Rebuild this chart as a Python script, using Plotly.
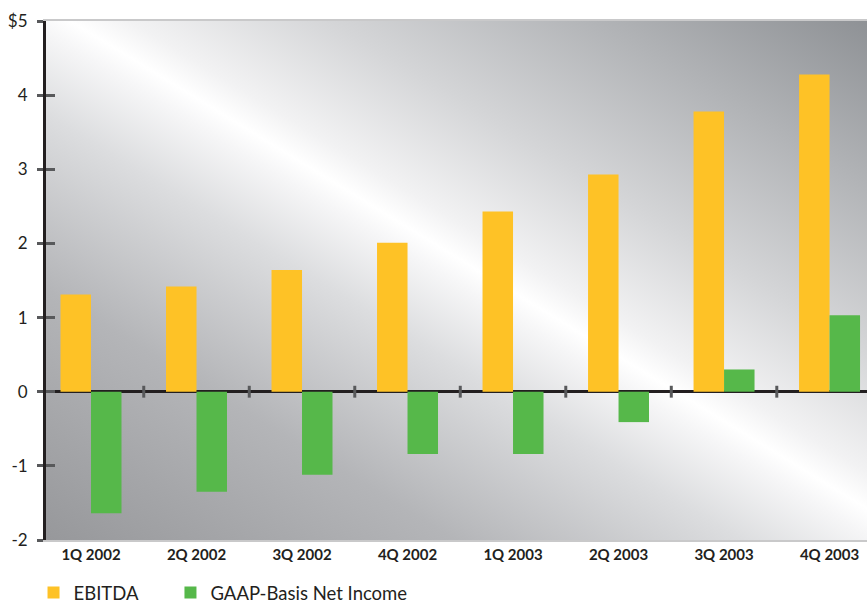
import base64
import plotly.graph_objects as go

# Quarterly results, $ millions
quarters = ["1Q 2002", "2Q 2002", "3Q 2002", "4Q 2002",
            "1Q 2003", "2Q 2003", "3Q 2003", "4Q 2003"]
ebitda = [1.31, 1.42, 1.64, 2.01, 2.43, 2.93, 3.78, 4.28]
net_income = [-1.64, -1.35, -1.12, -0.84, -0.84, -0.41, 0.30, 1.03]

y_ticks = [5, 4, 3, 2, 1, 0, -1, -2]
y_tick_text = ["$5", "4", "3", "2", "1", "0", "-1", "-2"]

x_pos = list(range(len(quarters)))
INK = "#231f20"
TICK = "#58595b"
FONT = "Lato, 'Open Sans', sans-serif"

# Diagonal steel-grey backdrop with a soft sheen across the plot area
W, H = 821, 519
svg = f"""<svg xmlns='http://www.w3.org/2000/svg' width='{W}' height='{H}' viewBox='0 0 {W} {H}' preserveAspectRatio='none'>
<defs><linearGradient id='g' gradientUnits='userSpaceOnUse' x1='24' y1='541' x2='483' y2='-209'>
<stop offset='0' stop-color='#96979a'/>
<stop offset='0.25' stop-color='#b4b5b8'/>
<stop offset='0.42' stop-color='#dcdddf'/>
<stop offset='0.50' stop-color='#f6f6f7'/>
<stop offset='0.525' stop-color='#ffffff'/>
<stop offset='0.56' stop-color='#f2f2f3'/>
<stop offset='0.68' stop-color='#d4d5d7'/>
<stop offset='1' stop-color='#8e9195'/>
</linearGradient></defs>
<rect x='0' y='0' width='{W}' height='{H}' fill='url(#g)'/>
</svg>"""
bg_uri = "data:image/svg+xml;base64," + base64.b64encode(svg.encode()).decode()

fig = go.Figure()
fig.add_trace(go.Bar(x=x_pos, y=ebitda, name="EBITDA", legend="legend",
                     marker=dict(color="#fec226", line=dict(width=0))))
fig.add_trace(go.Bar(x=x_pos, y=net_income, name="GAAP-Basis Net Income",
                     legend="legend2",
                     marker=dict(color="#56b84a", line=dict(width=0))))
# hidden trace to carry the inner half of the y-axis ticks
fig.add_trace(go.Scatter(x=[x_pos[0]], y=[0], yaxis="y2", mode="markers",
                         marker=dict(opacity=0), showlegend=False,
                         hoverinfo="skip"))

# small cross ticks on the zero line between quarters
shapes = []
for i in x_pos[:-1]:
    shapes.append(dict(type="line", xref="x", yref="y",
                       x0=i + 0.5, x1=i + 0.5, y0=-0.08, y1=0.08,
                       line=dict(color=TICK, width=3), layer="above"))

legend_style = dict(orientation="h", xanchor="left", y=-0.0655,
                    yanchor="top",
                    font=dict(size=18.5, color=INK, family=FONT),
                    bgcolor="rgba(0,0,0,0)")

fig.update_layout(
    width=867, height=603,
    margin=dict(l=46, r=0, t=21, b=63, autoexpand=False),
    paper_bgcolor="white",
    plot_bgcolor="rgba(0,0,0,0)",
    barmode="group", bargap=0.422, bargroupgap=0,
    font=dict(family=FONT, color=INK),
    images=[dict(source=bg_uri, xref="paper", yref="paper", x=0, y=1,
                 sizex=1, sizey=1, xanchor="left", yanchor="top",
                 sizing="stretch", layer="below")],
    shapes=shapes,
    xaxis=dict(range=[-0.4265, 7.355], tickvals=x_pos, ticktext=quarters,
               showgrid=False, zeroline=False, ticks="",
               showline=True, linecolor="#c9c9ca", linewidth=2, mirror=True,
               tickfont=dict(size=15, color=INK, family=FONT, weight="bold")),
    yaxis=dict(range=[-2, 5], tickvals=y_ticks, ticktext=y_tick_text,
               showgrid=False, zeroline=True, zerolinecolor=INK,
               zerolinewidth=3, showline=True, linecolor=INK, linewidth=3,
               ticks="outside", ticklen=6, tickwidth=3, tickcolor=TICK,
               ticklabelstandoff=6,
               tickfont=dict(size=17, color=INK, family=FONT)),
    yaxis2=dict(range=[-2, 5], overlaying="y", side="left",
                tickvals=y_ticks, showticklabels=False, showgrid=False,
                zeroline=False, showline=False,
                ticks="inside", ticklen=9, tickwidth=3, tickcolor=TICK),
    legend=dict(x=-0.0152, **legend_style),
    legend2=dict(x=0.1516, **legend_style),
    showlegend=True,
)

fig.write_html("out.html")
